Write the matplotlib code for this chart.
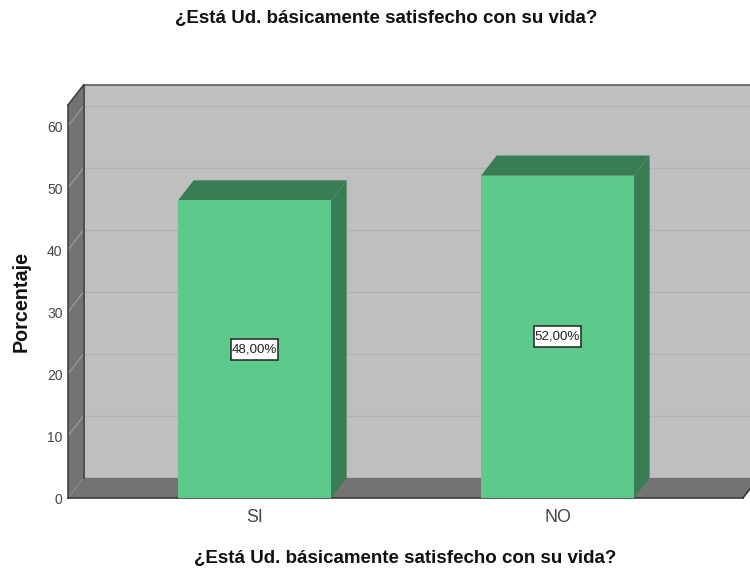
import matplotlib
matplotlib.use('Agg')
import matplotlib.pyplot as plt
import matplotlib.patches as mpatches

plt.rcParams['font.family'] = ['Liberation Sans', 'DejaVu Sans']

# Data
categories = ['SI', 'NO']
values = [48.0, 52.0]
bar_labels = ['48,00%', '52,00%']
y_ticks = [0, 10, 20, 30, 40, 50, 60]
title = '¿Está Ud. básicamente satisfecho con su vida?'

W, H = 750, 571
BAR_W = 0.505
DX = 0.0515  # depth of the fake 3D box, in data units
DY = 3.25
XMIN, XMAX = -0.6155, 1.612
YMAX = 63.4
BOX_W = 0.158  # value label box, in data units
BOX_H = 3.4

WALL = '#bfbfbf'
SIDE = '#737373'
GREEN = '#5dca8b'
DARK_GREEN = '#397d55'

fig = plt.figure(figsize=(W / 100, H / 100), dpi=100)
fig.set_facecolor('w')
# axes is the front plane of the box
ax = fig.add_axes([68 / W, 1 - 498 / H, (743 - 68) / W, (498 - 105) / H])
ax.set_xlim(XMIN, XMAX)
ax.set_ylim(0, YMAX)
ax.patch.set_visible(False)
for s in ax.spines.values():
    s.set_visible(False)


def poly(pts, fc, ec='none', lw=0, z=1):
    ax.add_patch(mpatches.Polygon(pts, closed=True, fc=fc, ec=ec, lw=lw, zorder=z, clip_on=False))


# back wall, left wall, floor
poly([(XMIN + DX, DY), (XMAX + DX, DY), (XMAX + DX, YMAX + DY), (XMIN + DX, YMAX + DY)], WALL)
poly([(XMIN, 0), (XMIN + DX, DY), (XMIN + DX, YMAX + DY), (XMIN, YMAX)], SIDE)
poly([(XMIN, 0), (XMAX, 0), (XMAX + DX, DY), (XMIN + DX, DY)], SIDE)

# gridlines
for t in y_ticks[1:]:
    ax.plot([XMIN + DX, XMAX + DX], [t + DY, t + DY], color='#b2b2b2', lw=1.0, zorder=2, clip_on=False)
    ax.plot([XMIN, XMIN + DX], [t, t + DY], color='#999999', lw=0.9, zorder=2, clip_on=False)
ax.plot([XMIN + DX, XMAX + DX], [YMAX + DY - 0.1] * 2, color='#555555', lw=1.1, zorder=3, clip_on=False)
ax.plot([XMIN + DX, XMIN + DX], [DY, YMAX + DY], color='#3c3c3c', lw=1.2, zorder=3, clip_on=False)
ax.plot([XMIN, XMIN], [0, YMAX], color='#3c3c3c', lw=1.1, zorder=3, clip_on=False)
ax.plot([XMIN, XMIN + DX], [YMAX, YMAX + DY], color='#3c3c3c', lw=1.1, zorder=3, clip_on=False)
ax.plot([XMIN, XMAX], [0, 0], color='#2e2e2e', lw=1.1, zorder=3, clip_on=False)
ax.plot([XMAX, XMAX + DX], [0, DY], color='#2e2e2e', lw=1.1, zorder=3, clip_on=False)

# bars
for i, (v, lab) in enumerate(zip(values, bar_labels)):
    l, r = i - BAR_W / 2, i + BAR_W / 2
    poly([(r, 0), (r + DX, DY), (r + DX, v + DY), (r, v)], DARK_GREEN, z=4)
    poly([(l, v), (r, v), (r + DX, v + DY), (l + DX, v + DY)], DARK_GREEN, z=4)
    ax.bar(i, v, width=BAR_W, color=GREEN, zorder=5)
    ax.add_patch(mpatches.Rectangle((i - BOX_W / 2, v / 2 - BOX_H / 2), BOX_W, BOX_H, fc='w', ec='#222222', lw=1.1, zorder=6))
    ax.text(i, v / 2, lab, ha='center', va='center', fontsize=9.6, color='#222222', zorder=7)

ax.set_xticks(range(len(categories)), categories)
ax.set_yticks(y_ticks)
ax.tick_params(axis='both', length=0)
ax.tick_params(axis='x', labelsize=12.8, labelcolor='#444444', pad=8)
ax.tick_params(axis='y', labelsize=10, labelcolor='#444444', pad=4)

fig.text(386 / W, 1 - 19 / H, title, ha='center', va='center', fontsize=13.5, fontweight='bold', color='#111111')
fig.text(405 / W, 1 - 559 / H, title, ha='center', va='center', fontsize=13.5, fontweight='bold', color='#111111')
fig.text(21 / W, 1 - 301 / H, 'Porcentaje', ha='center', va='center', rotation=90, fontsize=14.2,
         fontweight='bold', color='#111111')

fig.savefig('out.png', dpi=100)
